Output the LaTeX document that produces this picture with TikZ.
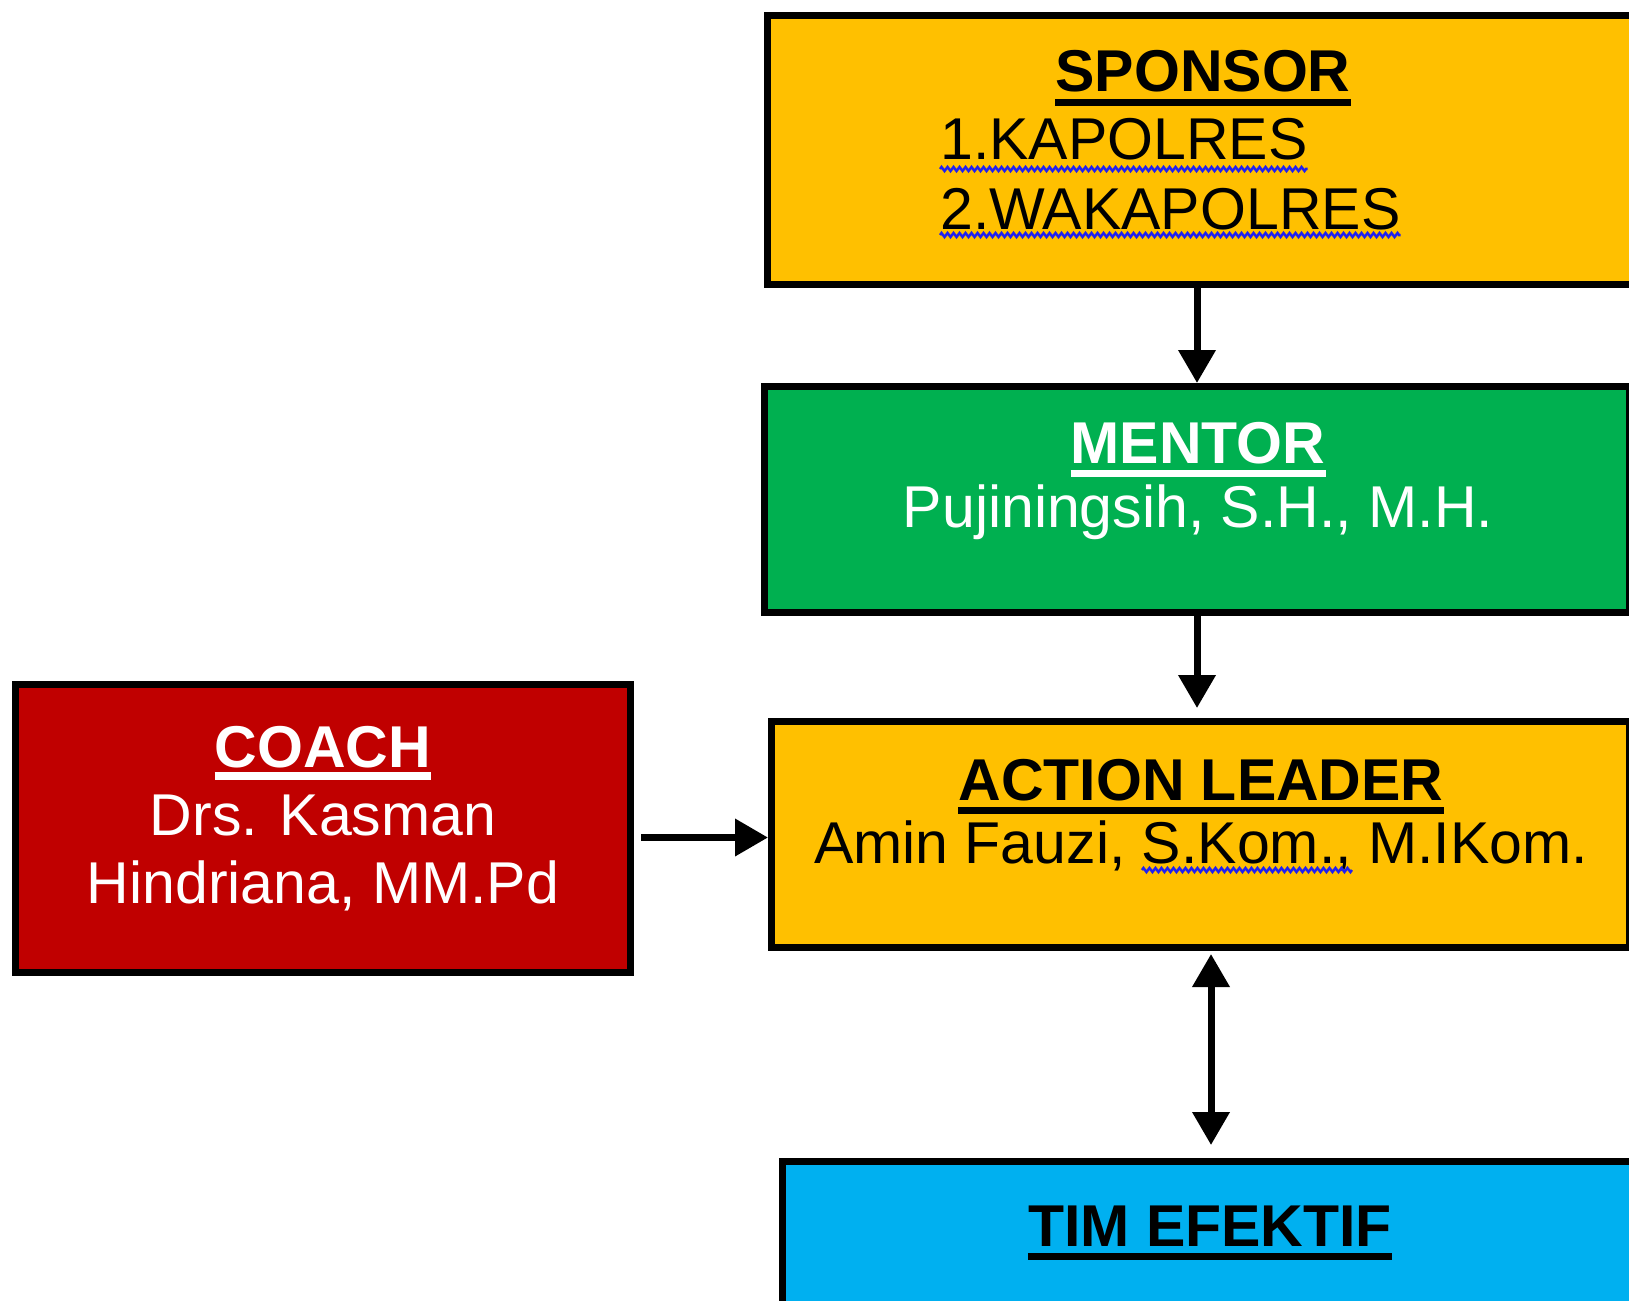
\documentclass[tikz,border=0pt]{standalone}
\usepackage{fontspec}
\setmainfont{Liberation Sans}
\usetikzlibrary{arrows.meta,decorations.pathmorphing}
\definecolor{gold}{HTML}{FFC000}
\definecolor{mgreen}{HTML}{00B050}
\definecolor{cred}{HTML}{C00000}
\definecolor{tblue}{HTML}{00B0F0}
\definecolor{squigblue}{HTML}{2020F0}
\begin{document}
\begin{tikzpicture}[x=1pt,y=-1pt,
  box/.style={draw=black, line width=7pt, rectangle, inner sep=0pt, anchor=north west},
  txt/.style={inner sep=0pt, anchor=base, font=\fontsize{59}{68}\selectfont},
  hd/.style={inner sep=0pt, anchor=base, font=\fontsize{59}{68}\selectfont\bfseries},
  ul/.style={line width=7.5pt},
  arr/.style={line width=7pt, -{Triangle[length=33pt,width=36pt]}},
  darr/.style={line width=7pt, {Triangle[length=33pt,width=36pt]}-{Triangle[length=33pt,width=36pt]}},
  squig/.style={draw=squigblue, line width=2.5pt, decorate, decoration={zigzag,segment length=6pt,amplitude=2pt}}]

\useasboundingbox (0,0) rectangle (1629,1300);
\fill[white] (0,0) rectangle (1629,1300);

% boxes
\node[box, fill=gold, minimum width=871pt, minimum height=269pt] (sponsor) at (764,12) {};
\node[box, fill=mgreen, minimum width=865pt, minimum height=226pt] (mentor) at (761,383) {};
\node[box, fill=gold, minimum width=858pt, minimum height=226pt] (action) at (768,718) {};
\node[box, fill=cred, minimum width=615pt, minimum height=288pt] (coach) at (12,681) {};
\node[box, fill=tblue, minimum width=855pt, minimum height=243pt] (tim) at (779,1158) {};

% texts
\node[hd] (sp) at (1203,92) {SPONSOR};
\node[txt, anchor=base west] (k1) at (940,160) {1.KAPOLRES};
\node[txt, anchor=base west] (k2) at (940,229) {2.WAKAPOLRES};
\node[hd, text=white] (mt) at (1198,463) {MENTOR};
\node[txt, text=white] (mn) at (1198,527) {Pujiningsih, S.H., M.H.};
\node[hd] (al) at (1201,800) {ACTION LEADER};
\node[txt] (am) at (1201,863) {Amin Fauzi, S.Kom., M.IKom.};
\node[hd, text=white] (co) at (323,767) {COACH};
\node[txt, text=white] (c1) at (323,835) {Drs. Kasman};
\node[txt, text=white] (c2) at (323,903) {Hindriana, MM.Pd};
\node[hd] (tm) at (1210,1246) {TIM EFEKTIF};

% underlines
\draw[ul] ([yshift=-10.5pt]sp.base west) -- ([yshift=-10.5pt]sp.base east);
\draw[ul, white] ([yshift=-10.5pt]mt.base west) -- ([yshift=-10.5pt]mt.base east);
\draw[ul] ([yshift=-10.5pt]al.base west) -- ([yshift=-10.5pt]al.base east);
\draw[ul, white] ([yshift=-9pt]co.base west) -- ([yshift=-9pt]co.base east);
\draw[ul] ([yshift=-10.5pt]tm.base west) -- ([yshift=-10.5pt]tm.base east);

% spell-check squiggles
\draw[squig] ([yshift=-9pt]k1.base west) -- ([yshift=-9pt]k1.base east);
\draw[squig] ([yshift=-6pt]k2.base west) -- ([yshift=-6pt]k2.base east);
\draw[squig] ([xshift=328pt,yshift=-7pt]am.base west) -- ([xshift=538pt,yshift=-7pt]am.base west);

% connectors
\coordinate (x1) at (1197,0);
\coordinate (x2) at (1211,0);
\coordinate (cy) at (0,837.5);
\draw[arr] (sponsor.south -| x1) -- (mentor.north -| x1);
\draw[arr, shorten >=10pt] (mentor.south -| x1) -- (action.north -| x1);
\draw[arr, shorten <=7pt] (coach.east |- cy) -- (action.west |- cy);
\draw[darr, shorten <=3pt, shorten >=13pt] (action.south -| x2) -- (tim.north -| x2);
\end{tikzpicture}
\end{document}
